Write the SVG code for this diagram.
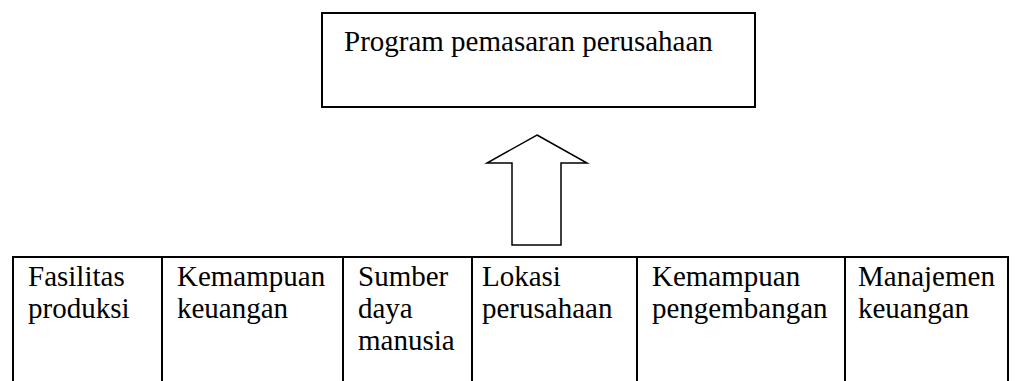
<svg xmlns="http://www.w3.org/2000/svg" width="1016" height="381" viewBox="0 0 1016 381">
<style>
.box{fill:#fff;stroke:#000;stroke-width:2}
.t{font-family:"Liberation Serif","Times New Roman",Tinos,serif;font-size:29px;fill:#000}
.arrow{fill:#fff;stroke:#000;stroke-width:1.5;stroke-linejoin:miter}
.div{stroke:#000;stroke-width:2}
</style>
<rect width="1016" height="381" fill="#fff"/>
<g id="program">
<rect class="box" x="322" y="13" width="433" height="94"/>
<text class="t" x="344" y="51">Program pemasaran perusahaan</text>
</g>
<g id="connectors">
<polygon class="arrow" points="537,135 587,163 561,163 561,245 512,245 512,163 487,163"/>
</g>
<g id="table">
<rect class="box" x="13" y="257" width="995" height="140"/>
<line class="div" x1="162" y1="257" x2="162" y2="381"/>
<line class="div" x1="343" y1="257" x2="343" y2="381"/>
<line class="div" x1="472" y1="257" x2="472" y2="381"/>
<line class="div" x1="637" y1="257" x2="637" y2="381"/>
<line class="div" x1="845" y1="257" x2="845" y2="381"/>
</g>
<g id="fasilitas">
<text class="t" x="28" y="286">Fasilitas</text>
<text class="t" x="28" y="318">produksi</text>
</g>
<g id="kemampuan-keuangan">
<text class="t" x="177" y="286">Kemampuan</text>
<text class="t" x="177" y="318">keuangan</text>
</g>
<g id="sumber-daya">
<text class="t" x="358" y="286">Sumber</text>
<text class="t" x="358" y="318">daya</text>
<text class="t" x="358" y="350">manusia</text>
</g>
<g id="lokasi">
<text class="t" x="482" y="286">Lokasi</text>
<text class="t" x="482" y="318">perusahaan</text>
</g>
<g id="kemampuan-pengembangan">
<text class="t" x="652" y="286">Kemampuan</text>
<text class="t" x="652" y="318">pengembangan</text>
</g>
<g id="manajemen">
<text class="t" x="858" y="286">Manajemen</text>
<text class="t" x="858" y="318">keuangan</text>
</g>
</svg>
